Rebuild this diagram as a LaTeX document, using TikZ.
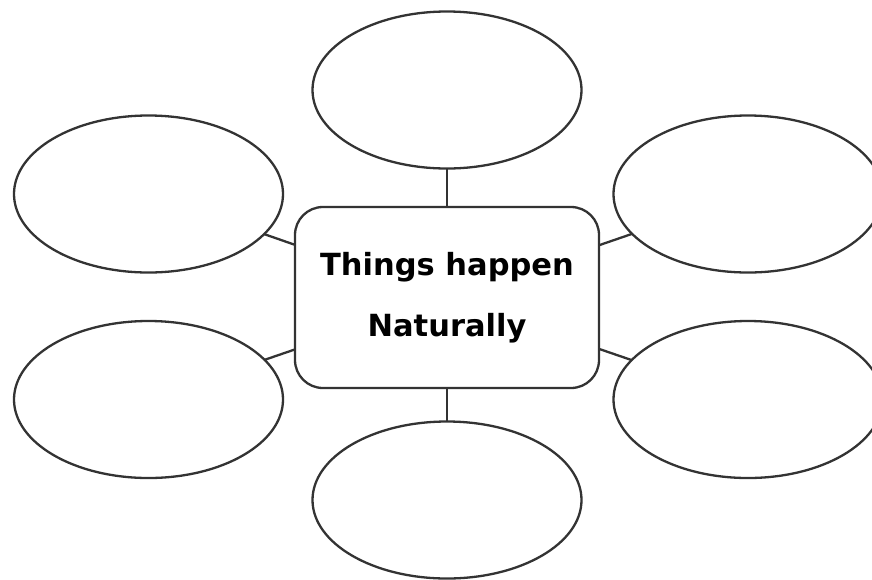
\documentclass[tikz,border=0pt]{standalone}
\usepackage{fontspec}
\setmainfont{DejaVu Sans}
\usetikzlibrary{shapes.geometric}
\definecolor{linegray}{HTML}{333333}
\tikzset{
  bubble/.style={ellipse, draw=linegray, line width=2.3pt, minimum width=269pt, minimum height=157pt, inner sep=0pt, outer sep=0pt},
  centerbox/.style={draw=linegray, line width=2.3pt, rounded corners=28pt, minimum width=304pt, minimum height=181pt, inner sep=0pt, outer sep=0pt, align=center, font=\bfseries\fontsize{30.5}{61}\selectfont},
  link/.style={draw=linegray, line width=2.3pt}
}
\begin{document}
\begin{tikzpicture}[x=1pt,y=-1pt]
\useasboundingbox (0,0) rectangle (872,579);
\node[centerbox] (box) at (447,297.5) {Things happen\\Naturally};
\node[bubble] (top) at (447,90) {};
\node[bubble] (bottom) at (447,500) {};
\node[bubble] (lt) at (148.5,194) {};
\node[bubble] (lb) at (148.5,399.5) {};
\node[bubble] (rt) at (748,194) {};
\node[bubble] (rb) at (748,399.5) {};
\draw[link] (box.north) -- (top.south);
\draw[link] (box.south) -- (bottom.north);
\draw[link] (box) -- (lt);
\draw[link] (box) -- (lb);
\draw[link] (box) -- (rt);
\draw[link] (box) -- (rb);
\end{tikzpicture}
\end{document}
